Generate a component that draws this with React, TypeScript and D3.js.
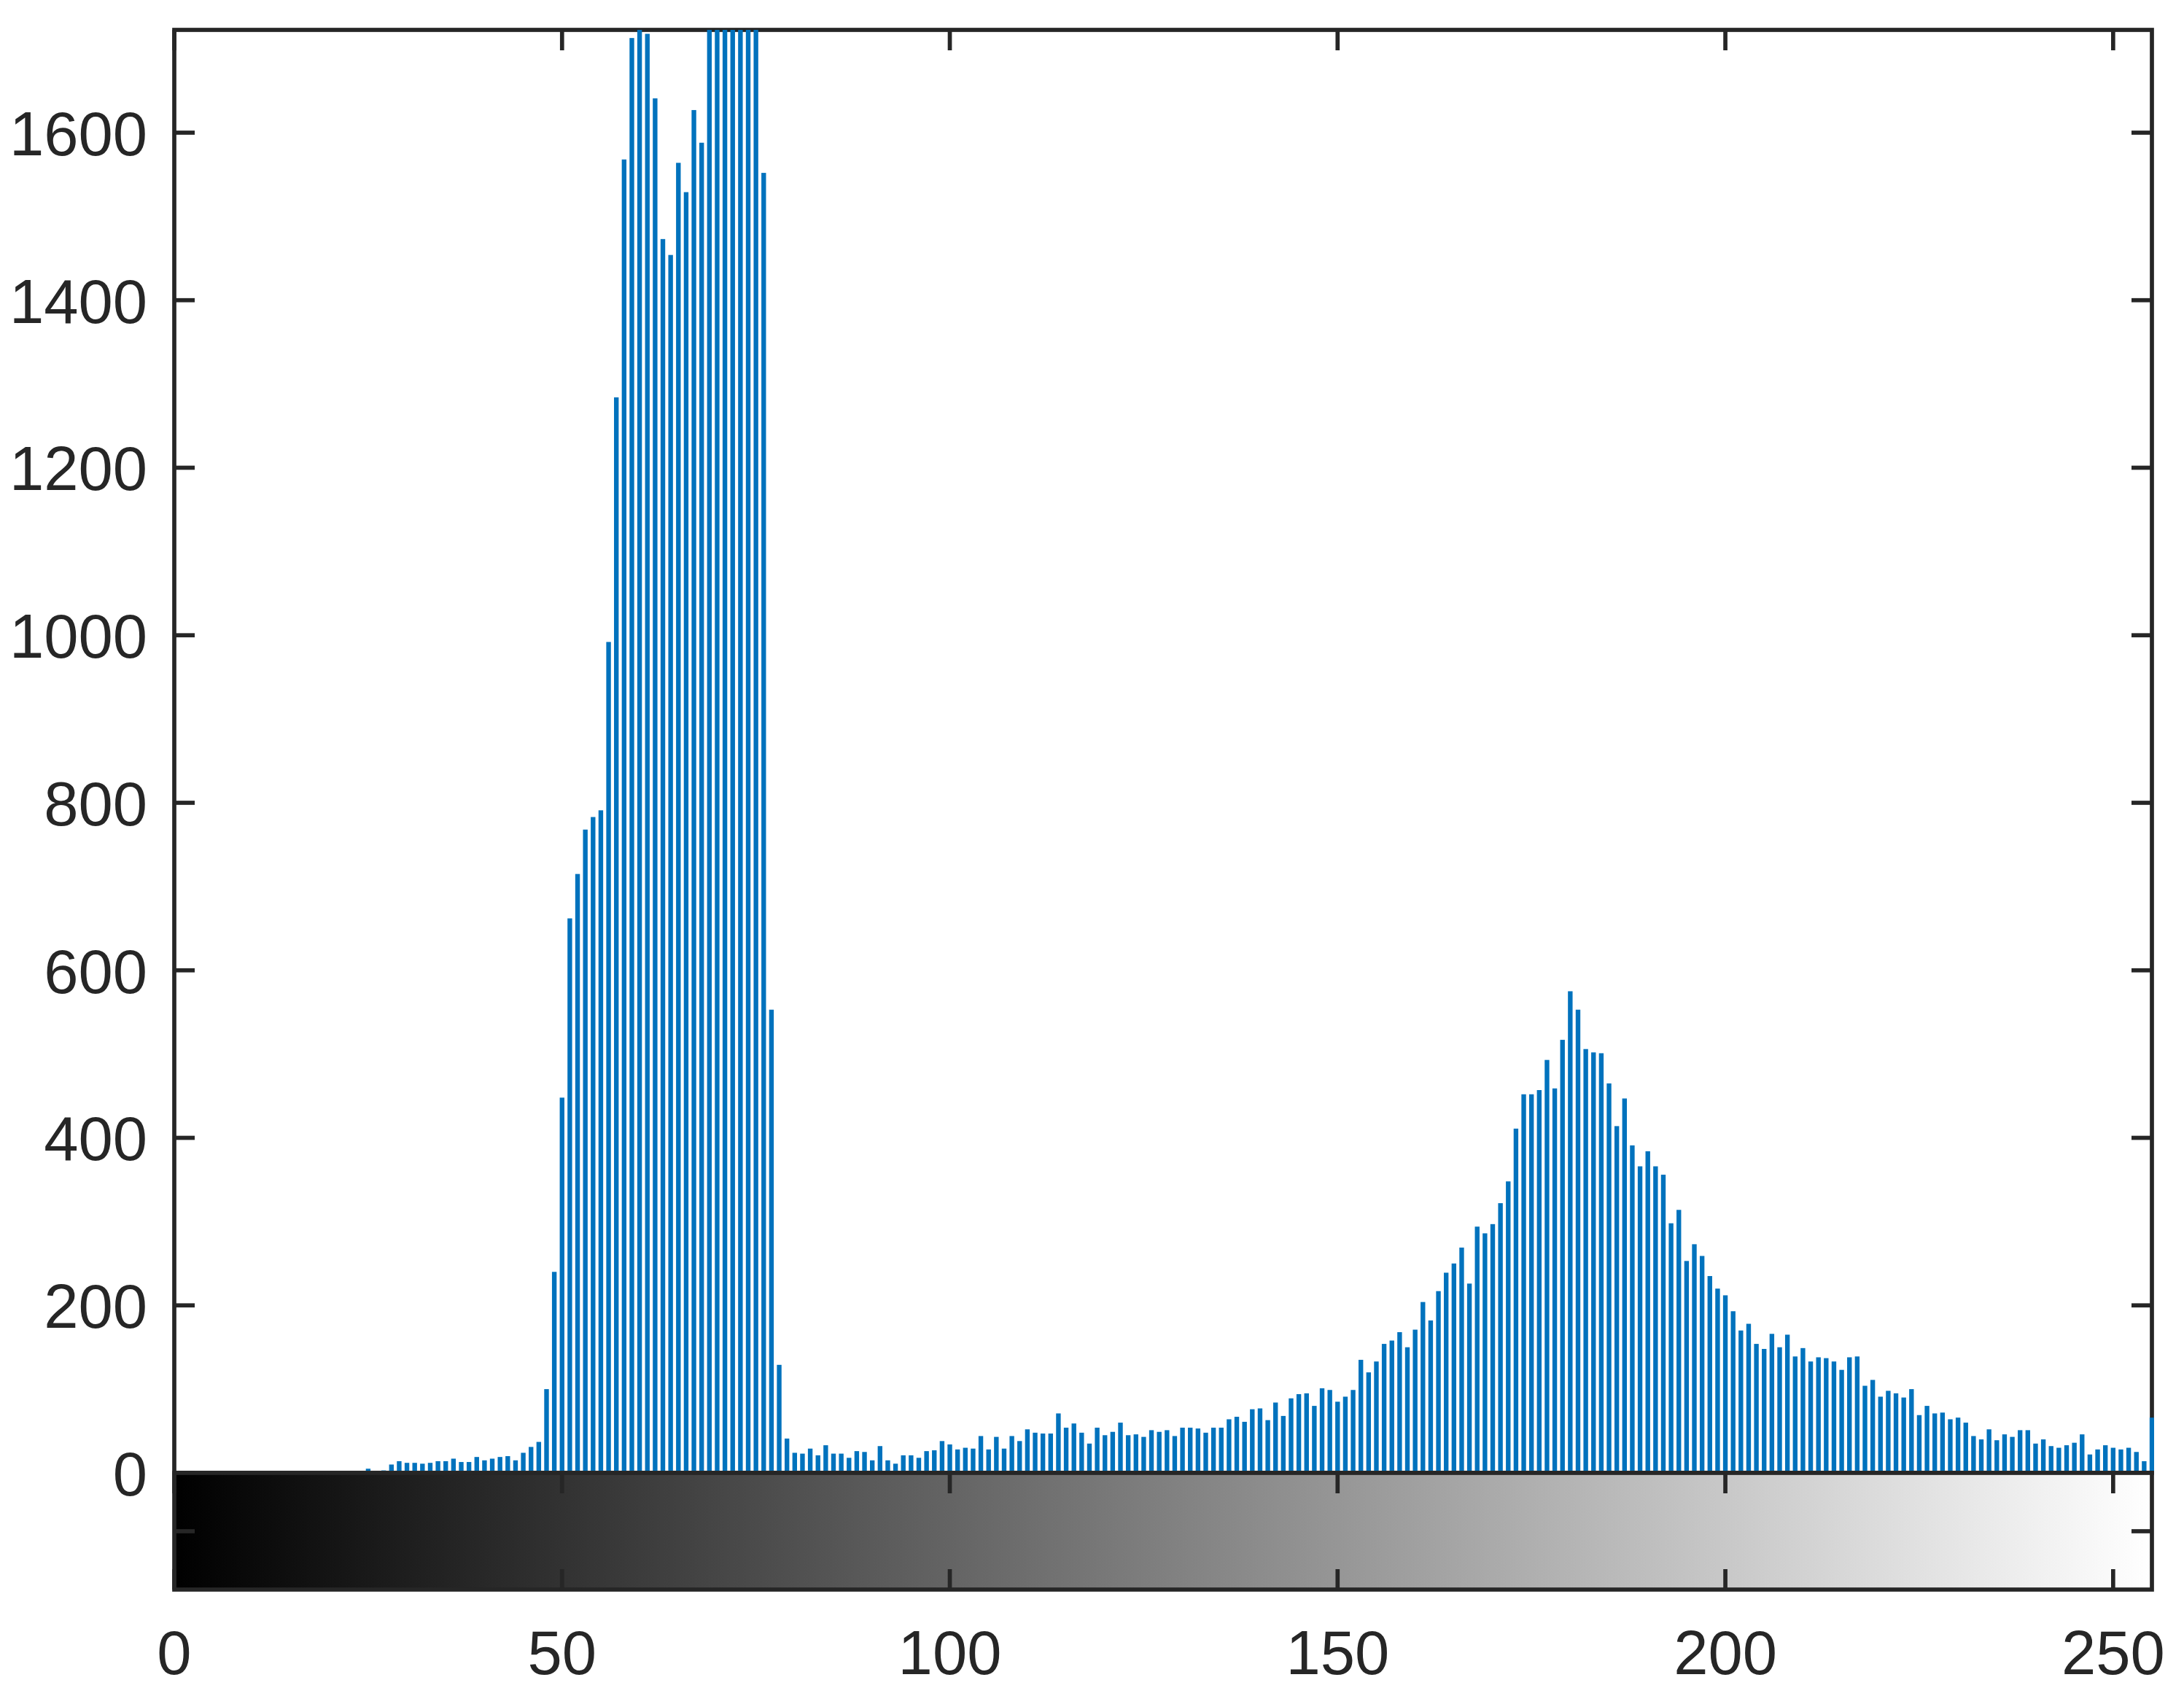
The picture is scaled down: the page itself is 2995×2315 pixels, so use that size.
import React from "react";
import * as d3 from "d3";

// pixel counts per gray level 0..255 (bins 69-75 run past the top of the axes)
const counts: number[] = [
  0, 0, 0, 0, 0, 0, 0, 0, 0, 0, 0, 0, 0, 0, 0, 0, 0, 0, 0, 0,
  0, 0, 0, 0, 0, 5, 2, 3, 10, 14, 12, 12, 11, 12, 14, 14, 17, 13, 13, 19,
  15, 17, 19, 20, 15, 24, 31, 37, 100, 240, 448, 662, 715, 768, 783, 791, 992, 1284, 1568, 1713,
  1730, 1718, 1641, 1473, 1454, 1564, 1529, 1627, 1588, 1790, 1860, 1900, 1880, 1840, 1810, 1770, 1552, 553, 129, 41,
  24, 23, 29, 21, 33, 23, 23, 18, 26, 25, 15, 32, 15, 11, 21, 21, 18, 26, 27, 38,
  34, 28, 30, 29, 44, 28, 43, 29, 44, 38, 52, 48, 47, 47, 71, 54, 59, 48, 35, 54,
  45, 49, 60, 45, 46, 43, 51, 49, 51, 44, 54, 54, 53, 48, 54, 54, 64, 67, 61, 76,
  77, 63, 84, 68, 89, 94, 95, 80, 101, 99, 85, 91, 99, 135, 120, 133, 154, 158, 168, 150,
  171, 204, 182, 217, 239, 250, 269, 226, 294, 286, 297, 322, 348, 411, 452, 452, 457, 493, 459, 517,
  575, 553, 506, 502, 501, 465, 414, 447, 391, 366, 384, 366, 356, 298, 314, 253, 273, 259, 235, 220,
  212, 193, 170, 178, 154, 148, 166, 150, 165, 139, 149, 133, 138, 137, 133, 123, 138, 139, 104, 111,
  91, 98, 95, 90, 100, 69, 80, 71, 72, 64, 66, 60, 44, 40, 52, 39, 46, 43, 51, 51,
  35, 40, 32, 30, 33, 36, 46, 22, 28, 33, 30, 28, 30, 25, 14, 66,
];
const xTicks = [0, 50, 100, 150, 200, 250];
const yTicks = [0, 200, 400, 600, 800, 1000, 1200, 1400, 1600];
const xDomain: [number, number] = [0, 255];
const yDomain: [number, number] = [0, 1722.7];

const W = 2995;
const H = 2315;
const left = 239;
const right = 2951;
const top = 41;
const base = 2020;
const cbBottom = 2180;
const ink = "#262626";
const lw = 5.7;
const tickLen = 28;
const fs = 85;
const font = "'Liberation Sans', Arial, Helvetica, sans-serif";

export default function App() {
  const x = d3.scaleLinear().domain(xDomain).range([left, right]);
  const y = d3.scaleLinear().domain(yDomain).range([base, top]);
  const step = x(1) - x(0);
  const barW = step * 0.6;
  const cbMid = (base + cbBottom) / 2;

  return (
    <svg
      width={W}
      height={H}
      style={{ position: "absolute", left: 0, top: 0, display: "block", background: "#fff" }}
    >
      <defs>
        <clipPath id="plotClip">
          <rect x={left - 3} y={top} width={right - left + 6} height={base - 3 - top} />
        </clipPath>
        <linearGradient id="grayRamp" gradientUnits="userSpaceOnUse" x1={x(0)} x2={x(255)} y1={0} y2={0}>
          <stop offset="0" stopColor="#000" />
          <stop offset="1" stopColor="#fff" />
        </linearGradient>
      </defs>

      {/* histogram frame and ticks */}
      <g stroke={ink} strokeWidth={lw} fill="none">
        <rect x={left} y={top} width={right - left} height={base - top} />
        {yTicks.map((t) => (
          <g key={"yt" + t}>
            <line x1={left} x2={left + tickLen} y1={y(t)} y2={y(t)} />
            <line x1={right} x2={right - tickLen} y1={y(t)} y2={y(t)} />
          </g>
        ))}
        {xTicks.map((t) => (
          <line key={"xt" + t} x1={x(t)} x2={x(t)} y1={top} y2={top + tickLen} />
        ))}
      </g>

      {/* bars */}
      <g clipPath="url(#plotClip)" fill="#0072BD">
        {counts.map((c, i) =>
          c > 0 ? (
            <rect key={i} x={x(i) - barW / 2} y={y(c)} width={barW} height={y(0) - y(c)} />
          ) : null
        )}
      </g>

      {/* gray level colorbar */}
      <rect x={left} y={base} width={right - left} height={cbBottom - base} fill="url(#grayRamp)" />
      <g stroke={ink} strokeWidth={lw} fill="none">
        <rect x={left} y={base} width={right - left} height={cbBottom - base} />
        {xTicks.map((t) => (
          <g key={"cb" + t}>
            <line x1={x(t)} x2={x(t)} y1={base} y2={base + tickLen} />
            <line x1={x(t)} x2={x(t)} y1={cbBottom} y2={cbBottom - tickLen} />
          </g>
        ))}
        <line x1={left} x2={left + tickLen} y1={cbMid} y2={cbMid} />
        <line x1={right} x2={right - tickLen} y1={cbMid} y2={cbMid} />
      </g>

      {/* labels */}
      <g fill={ink} fontFamily={font} fontSize={fs}>
        {yTicks.map((t) => (
          <text key={"yl" + t} x={202} y={y(t) + 31} textAnchor="end">
            {t}
          </text>
        ))}
        {xTicks.map((t) => (
          <text key={"xl" + t} x={x(t)} y={2296} textAnchor="middle">
            {t}
          </text>
        ))}
      </g>
    </svg>
  );
}
